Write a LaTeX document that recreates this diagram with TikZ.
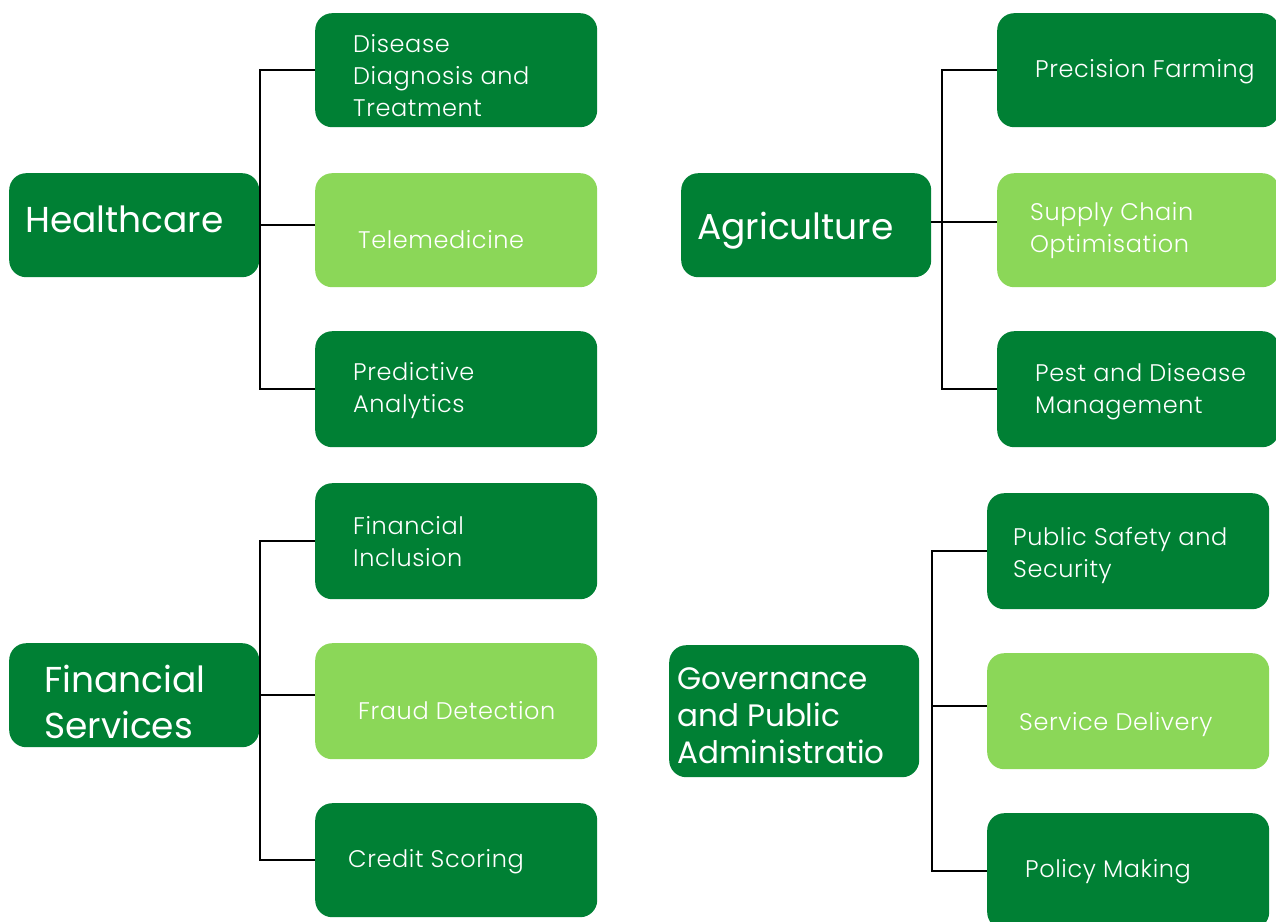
\documentclass[tikz,border=0pt]{standalone}
\usepackage{fontspec}
\setmainfont{Poppins}
\newfontfamily\lightfont{Poppins Light}[LetterSpace=2.5]
\usetikzlibrary{calc}
\definecolor{dg}{RGB}{0,128,52}
\definecolor{lg}{RGB}{139,215,88}
\tikzset{
  box/.style={rectangle, rounded corners=17pt, inner sep=0pt, draw=none, anchor=north west, minimum width=282pt, minimum height=114pt},
  dbox/.style={box, fill=dg},
  lbox/.style={box, fill=lg},
  hbox/.style={box, fill=dg, minimum width=250pt, minimum height=104pt},
  child/.style={text=white, font=\lightfont\fontsize{24}{32}\selectfont, align=left, anchor=base west, inner sep=0pt},
  head/.style={text=white, font=\fontsize{36}{46}\selectfont, align=left, anchor=base west, inner sep=0pt},
  conn/.style={draw=black, line width=2.2pt},
}
\begin{document}
\begin{tikzpicture}[x=1pt,y=-1pt]
\useasboundingbox (0,0) rectangle (1276,921);
\clip (0,0) rectangle (1276,921);
% ---------- Healthcare ----------
\node[hbox] (hc) at (9,173) {};
\node[dbox] (dd) at (315,13) {};
\node[lbox] (tm) at (315,173) {};
\node[dbox, minimum height=116pt] (pa) at (315,331) {};
\node[head] (hct) at (25,232) {Healthcare};
\node[child] (ddt) at (353,116) {Disease\\Diagnosis and\\Treatment};
\node[child] (tmt) at (358,248) {Telemedicine};
\node[child] (pat) at (353,412) {Predictive\\Analytics};
\coordinate (hcj) at (260,0);
\draw[conn] (dd.west) -- (dd.west -| hcj) -- (pa.west -| hcj) -- (pa.west);
\draw[conn] (hc.east) -- (hc.east -| tm.west);
% ---------- Agriculture ----------
\node[hbox] (ag) at (681,173) {};
\node[dbox] (pf) at (997,13) {};
\node[lbox] (sc) at (997,173) {};
\node[dbox, minimum height=116pt] (pd) at (997,331) {};
\node[head] (agt) at (697,239) {Agriculture};
\node[child] (pft) at (1035,77) {Precision Farming};
\node[child] (sct) at (1030,252) {Supply Chain\\Optimisation};
\node[child] (pdt) at (1035,413) {Pest and Disease\\Management};
\coordinate (agj) at (942,0);
\draw[conn] (pf.west) -- (pf.west -| agj) -- (pd.west -| agj) -- (pd.west);
\draw[conn] ($(ag.east)+(0,-3)$) -- ($(ag.east -| sc.west)+(0,-3)$);
% ---------- Financial Services ----------
\node[hbox] (fs) at (9,643) {};
\node[dbox, minimum height=116pt] (fi) at (315,483) {};
\node[lbox, minimum height=116pt] (fd) at (315,643) {};
\node[dbox] (cs) at (315,803) {};
\node[head] (fst) at (44,738) {Financial\\Services};
\node[child] (fit) at (353,566) {Financial\\Inclusion};
\node[child] (fdt) at (358,719) {Fraud Detection};
\node[child] (cst) at (348,867) {Credit Scoring};
\coordinate (fsj) at (260,0);
\draw[conn] (fi.west) -- (fi.west -| fsj) -- (cs.west -| fsj) -- (cs.west);
\draw[conn] (fs.east) -- (fs.east -| fd.west);
% ---------- Governance ----------
\node[hbox, minimum height=132pt] (gv) at (669,645) {};
\node[dbox, minimum height=116pt] (ps) at (987,493) {};
\node[lbox, minimum height=116pt] (sd) at (987,653) {};
\node[dbox, minimum height=116pt] (pm) at (987,813) {};
\node[head, font=\fontsize{31}{37}\selectfont] (gvt) at (677,763) {Governance\\and Public\\Administratio};
\node[child] (pst) at (1013,577) {Public Safety and\\Security};
\node[child] (sdt) at (1019,730) {Service Delivery};
\node[child] (pmt) at (1025,877) {Policy Making};
\coordinate (gvj) at (932,0);
\draw[conn] (ps.west) -- (ps.west -| gvj) -- (pm.west -| gvj) -- (pm.west);
\draw[conn] ($(sd.west -| gvj)+(0,-5)$) -- ($(sd.west)+(0,-5)$);
\end{tikzpicture}
\end{document}
